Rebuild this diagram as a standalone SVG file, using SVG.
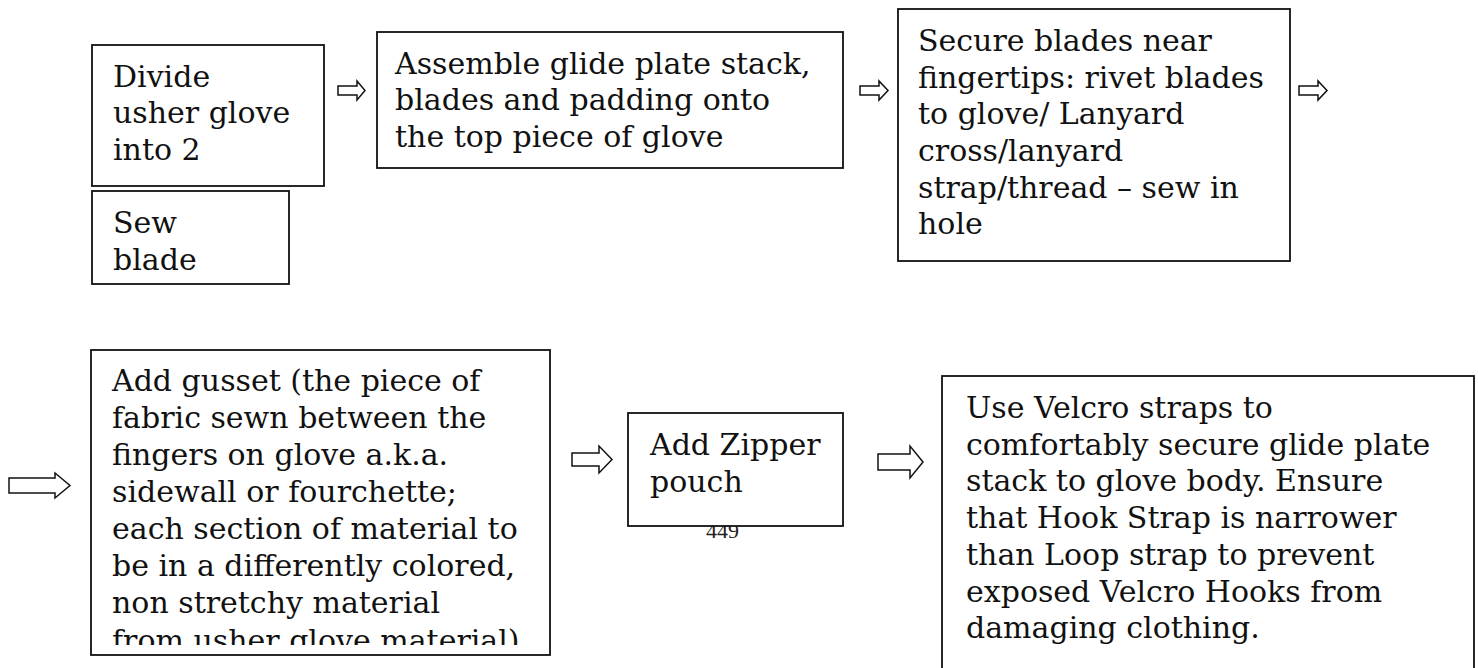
<svg xmlns="http://www.w3.org/2000/svg" width="1478" height="668" viewBox="0 0 1478 668">
<style>
.box{fill:#fff;stroke:#111;stroke-width:1.8}
.t{font-family:"DejaVu Serif","Liberation Serif",serif;font-size:30px;fill:#111}
.arr{fill:#fff;stroke:#111;stroke-width:1.5;stroke-linejoin:miter}
.pg{font-family:"Liberation Serif",serif;font-size:22px;fill:#222}
</style>
<defs>
<clipPath id="gclip"><rect x="91" y="350" width="459" height="295"/></clipPath>
</defs>
<rect width="1478" height="668" fill="#fff"/>
<text class="pg" x="706" y="538">449</text>
<g id="connectors">
<polygon class="arr" points="338,86 357,86 357,81 365,90.5 357,100 357,95 338,95"/>
<polygon class="arr" points="860,86 879,86 879,81 888,90.5 879,100 879,95 860,95"/>
<polygon class="arr" points="1299,86 1318,86 1318,81 1327,90.5 1318,100 1318,95 1299,95"/>
<polygon class="arr" points="9,478 55,478 55,473 70,485.5 55,498 55,493 9,493"/>
<polygon class="arr" points="572,453 599,453 599,446 612,459.5 599,473 599,466 572,466"/>
<polygon class="arr" points="878,454 910,454 910,446 923,462 910,478 910,470 878,470"/>
</g>
<g id="divide">
<rect class="box" x="92" y="45" width="232" height="141"/>
<text class="t" x="113" y="87">Divide</text>
<text class="t" x="113" y="123">usher glove</text>
<text class="t" x="113" y="160">into 2</text>
</g>
<g id="sew">
<rect class="box" x="92" y="191" width="197" height="93"/>
<text class="t" x="113" y="233">Sew</text>
<text class="t" x="113" y="270">blade</text>
</g>
<g id="assemble">
<rect class="box" x="377" y="32" width="466" height="136"/>
<text class="t" x="395" y="74">Assemble glide plate stack,</text>
<text class="t" x="395" y="110">blades and padding onto</text>
<text class="t" x="395" y="147">the top piece of glove</text>
</g>
<g id="secure">
<rect class="box" x="898" y="9" width="392" height="252"/>
<text class="t" x="918" y="51">Secure blades near</text>
<text class="t" x="918" y="88">fingertips: rivet blades</text>
<text class="t" x="918" y="124">to glove/ Lanyard</text>
<text class="t" x="918" y="161">cross/lanyard</text>
<text class="t" x="918" y="198">strap/thread – sew in</text>
<text class="t" x="918" y="234">hole</text>
</g>
<g id="gusset">
<rect class="box" x="91" y="350" width="459" height="305"/>
<g clip-path="url(#gclip)">
<text class="t" x="112" y="391">Add gusset (the piece of</text>
<text class="t" x="112" y="428">fabric sewn between the</text>
<text class="t" x="112" y="465">fingers on glove a.k.a.</text>
<text class="t" x="112" y="502">sidewall or fourchette;</text>
<text class="t" x="112" y="539">each section of material to</text>
<text class="t" x="112" y="576">be in a differently colored,</text>
<text class="t" x="112" y="613">non stretchy material</text>
<text class="t" x="112" y="651">from usher glove material)</text>
</g>
</g>
<g id="zipper">
<rect class="box" x="628" y="413" width="215" height="113"/>
<text class="t" x="650" y="455">Add Zipper</text>
<text class="t" x="650" y="492">pouch</text>
</g>
<g id="velcro">
<rect class="box" x="942" y="376" width="532" height="330"/>
<text class="t" x="966" y="418">Use Velcro straps to</text>
<text class="t" x="966" y="455">comfortably secure glide plate</text>
<text class="t" x="966" y="491">stack to glove body. Ensure</text>
<text class="t" x="966" y="528">that Hook Strap is narrower</text>
<text class="t" x="966" y="565">than Loop strap to prevent</text>
<text class="t" x="966" y="602">exposed Velcro Hooks from</text>
<text class="t" x="966" y="638">damaging clothing.</text>
</g>
</svg>
